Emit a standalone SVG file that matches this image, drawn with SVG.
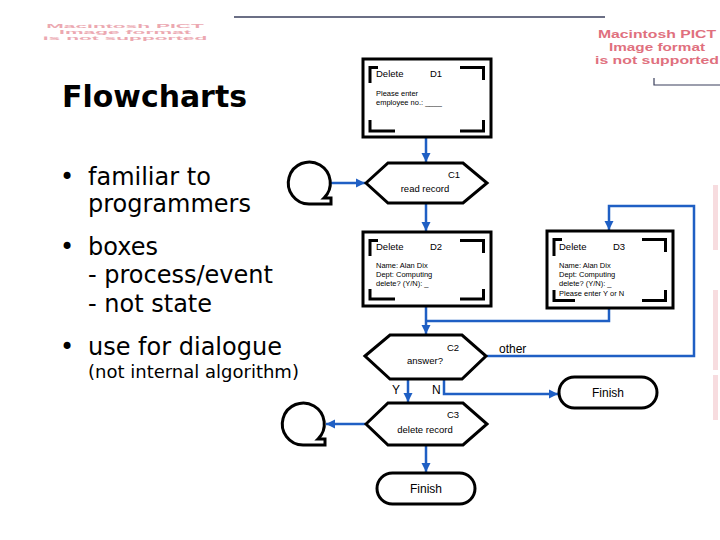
<svg xmlns="http://www.w3.org/2000/svg" width="720" height="540" viewBox="0 0 720 540">
<style>
.title{font-family:"DejaVu Sans",sans-serif;font-weight:bold;font-size:30px;fill:#000}
.bul{font-family:"DejaVu Sans",sans-serif;font-size:24px;fill:#000}
.bul2{font-family:"DejaVu Sans",sans-serif;font-size:18px;fill:#000}
.box{fill:#fff;stroke:#000;stroke-width:3}
.brk{fill:none;stroke:#000;stroke-width:3}
.shape{fill:#fff;stroke:#000;stroke-width:3;stroke-linejoin:miter}
.t9{font-family:"Liberation Sans",Arial,sans-serif;font-size:9.5px;fill:#000}
.t7{font-family:"Liberation Sans",Arial,sans-serif;font-size:7.5px;fill:#000}
.t12{font-family:"Liberation Sans",Arial,sans-serif;font-size:12px;fill:#000}
.conn{fill:none;stroke:#1f5fc4;stroke-width:2.5}
.pict{font-family:"Liberation Sans",Arial,sans-serif;font-weight:bold;font-size:12px;fill:#e0707e;text-anchor:middle}
.pict2{font-family:"Liberation Sans",Arial,sans-serif;font-weight:bold;font-size:11.5px;fill:#e0707e;text-anchor:middle}
</style>
<defs>
<marker id="arr" markerUnits="userSpaceOnUse" markerWidth="10" markerHeight="10" refX="9" refY="5" orient="auto">
<path d="M0,0.5 L9,5 L0,9.5 Z" fill="#1f5fc4"/>
</marker>
</defs>
<rect width="720" height="540" fill="#fff"/>

<g id="artifacts">
<line x1="234" y1="17" x2="605" y2="17" stroke="#3a3f5c" stroke-width="1.5"/>
<path d="M654 78 L654 85 L720 85" fill="none" stroke="#3a3f5c" stroke-width="1.2"/>
<g transform="translate(125,0) scale(1.75,0.42)" opacity="0.6">
<text class="pict" x="0" y="66">Macintosh PICT</text>
<text class="pict" x="0" y="81">Image format</text>
<text class="pict" x="0" y="96">is not supported</text>
</g>
<text class="pict2" x="657" y="38" textLength="118" lengthAdjust="spacingAndGlyphs">Macintosh PICT</text>
<text class="pict2" x="657" y="51" textLength="96" lengthAdjust="spacingAndGlyphs">Image format</text>
<text class="pict2" x="657" y="64" textLength="124" lengthAdjust="spacingAndGlyphs">is not supported</text>
<rect x="713" y="185" width="5" height="65" fill="#f2c4ca" opacity="0.6"/>
<rect x="713" y="290" width="5" height="80" fill="#f2c4ca" opacity="0.6"/>
<rect x="713" y="375" width="5" height="45" fill="#f2c4ca" opacity="0.6"/>
</g>

<g id="text-left">
<text class="title" x="62" y="107" textLength="185" lengthAdjust="spacingAndGlyphs">Flowcharts</text>
<text class="bul" x="60" y="185">•</text>
<text class="bul" x="88" y="185">familiar to</text>
<text class="bul" x="88" y="212">programmers</text>
<text class="bul" x="60" y="255">•</text>
<text class="bul" x="88" y="255">boxes</text>
<text class="bul" x="88" y="283">- process/event</text>
<text class="bul" x="88" y="312">- not state</text>
<text class="bul" x="60" y="355">•</text>
<text class="bul" x="88" y="355">use for dialogue</text>
<text class="bul2" x="88" y="378">(not internal algorithm)</text>
</g>

<g id="connectors">
<path class="conn" d="M426 138 L426 162" marker-end="url(#arr)"/>
<path class="conn" d="M331 183 L365 183" marker-end="url(#arr)"/>
<path class="conn" d="M426 204 L426 231" marker-end="url(#arr)"/>
<path class="conn" d="M426 306 L426 334" marker-end="url(#arr)"/>
<path class="conn" d="M609 308 L609 321 L426 321"/>
<path class="conn" d="M408 380 L408 402" marker-end="url(#arr)"/>
<path class="conn" d="M444 380 L444 394 L558 394" marker-end="url(#arr)"/>
<path class="conn" d="M487 356 L694 356 L694 206 L609 206 L609 230" marker-end="url(#arr)"/>
<path class="conn" d="M365 424 L326 424" marker-end="url(#arr)"/>
<path class="conn" d="M426 446 L426 472" marker-end="url(#arr)"/>
<text class="t12" x="392" y="394">Y</text>
<text class="t12" x="432" y="394">N</text>
<text class="t12" x="499" y="353">other</text>
</g>

<g id="D1">
<rect class="box" x="363" y="59" width="128" height="78"/>
<path class="brk" d="M370 83 L370 67.5 L378 67.5 M460 67.5 L483.5 67.5 L483.5 80 M370 120 L370 131 L395 131 M460 131 L483.5 131 L483.5 120"/>
<text class="t9" x="376" y="77">Delete</text>
<text class="t9" x="430" y="77">D1</text>
<text class="t7" x="376" y="96">Please enter</text>
<text class="t7" x="376" y="105">employee no.: ____</text>
</g>

<g id="C1">
<polygon class="shape" points="366,183 388,163 463,163 487,183 463,203 388,203"/>
<text class="t9" x="448" y="178">C1</text>
<text class="t9" x="425" y="192" text-anchor="middle">read record</text>
</g>

<g id="loop1">
<path class="shape" d="M309 204 A21 21 0 1 1 324 198 L331 198 L331 204 Z"/>
</g>

<g id="D2">
<rect class="box" x="363" y="232" width="128" height="74"/>
<path class="brk" d="M370 256 L370 240.5 L378 240.5 M460 240.5 L483.5 240.5 L483.5 253 M370 289 L370 299 L395 299 M460 299 L483.5 299 L483.5 289"/>
<text class="t9" x="376" y="250">Delete</text>
<text class="t9" x="430" y="250">D2</text>
<text class="t7" x="376" y="268">Name: Alan Dix</text>
<text class="t7" x="376" y="277">Dept: Computing</text>
<text class="t7" x="376" y="286">delete? (Y/N):  _</text>
</g>

<g id="D3">
<rect class="box" x="547" y="231" width="126" height="77"/>
<path class="brk" d="M554 256 L554 239.5 L562 239.5 M642 239.5 L665.5 239.5 L665.5 252 M554 290 L554 300.5 L575 300.5 M642 300.5 L665.5 300.5 L665.5 290"/>
<text class="t9" x="559" y="250">Delete</text>
<text class="t9" x="613" y="250">D3</text>
<text class="t7" x="559" y="268">Name: Alan Dix</text>
<text class="t7" x="559" y="277">Dept: Computing</text>
<text class="t7" x="559" y="286">delete? (Y/N):  _</text>
<text class="t7" x="559" y="296">Please enter Y or N</text>
</g>

<g id="C2">
<polygon class="shape" points="365,356 390,335 462,335 486,356 462,379 390,379"/>
<text class="t9" x="447" y="351">C2</text>
<text class="t9" x="425" y="364" text-anchor="middle">answer?</text>
</g>

<g id="Finish2">
<rect class="shape" x="559" y="377" width="98" height="31" rx="15.5"/>
<text class="t12" x="608" y="397" text-anchor="middle">Finish</text>
</g>

<g id="C3">
<polygon class="shape" points="366,424 388,403 463,403 487,424 463,445 388,445"/>
<text class="t9" x="447" y="418">C3</text>
<text class="t9" x="425" y="433" text-anchor="middle">delete record</text>
</g>

<g id="loop2">
<path class="shape" d="M303 445 A21 21 0 1 1 318 439 L325 439 L325 445 Z"/>
</g>

<g id="Finish1">
<rect class="shape" x="377" y="473" width="98" height="31" rx="15.5"/>
<text class="t12" x="426" y="493" text-anchor="middle">Finish</text>
</g>
</svg>
